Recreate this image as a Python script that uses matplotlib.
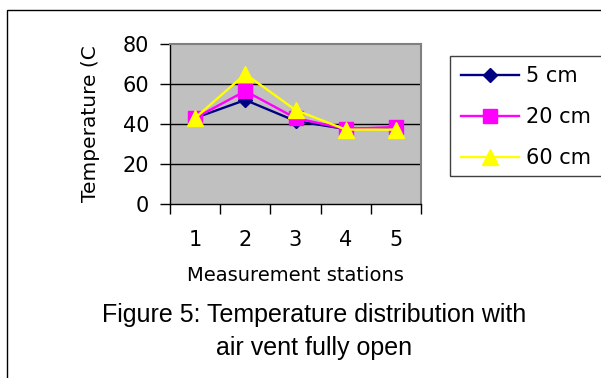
import matplotlib
matplotlib.use("Agg")
import matplotlib.pyplot as plt
from matplotlib.patches import Rectangle

plt.rcParams["font.family"] = ["DejaVu Sans"]

stations = [1, 2, 3, 4, 5]
station_labels = ["1", "2", "3", "4", "5"]
temp_5cm = [43, 52, 41.5, 37.5, 38]
temp_20cm = [43, 56.5, 43, 37.5, 38.5]
temp_60cm = [43, 65, 47, 37.2, 37.2]
series_names = ["5 cm", "20 cm", "60 cm"]
y_ticks = [0, 20, 40, 60, 80]
caption = ["Figure 5: Temperature distribution with", "air vent fully open"]

W, H = 601, 378
fig = plt.figure(figsize=(W / 100, H / 100), dpi=100)

# outer frame of the figure (runs off the right/bottom edge)
fig.patches.append(Rectangle((7 / W, 1 - 400 / H), 620 / W, 390 / H,
                             transform=fig.transFigure, fill=False,
                             edgecolor="black", linewidth=1.0))

ax = fig.add_axes([170 / W, 1 - 204 / H, 251 / W, 160 / H])
ax.set_facecolor("#c0c0c0")

ax.plot(stations, temp_5cm, color="#000080", lw=1.7, marker="D",
        markersize=7.5, label=series_names[0], zorder=3)
ax.plot(stations, temp_20cm, color="#ff00ff", lw=1.7, marker="s",
        markersize=10, label=series_names[1], zorder=4)
ax.plot(stations, temp_60cm, color="#ffff00", lw=1.7, marker="^",
        markersize=11, label=series_names[2], zorder=5)

ax.set_xlim(0.5, 5.5)
ax.set_ylim(0, 80)
ax.set_yticks(y_ticks)
ax.set_xticks(stations)
ax.set_xticklabels(station_labels)
ax.set_xticks([0.5 + i for i in range(6)], minor=True)
ax.tick_params(axis="x", which="major", length=0, pad=19, labelsize=15)
ax.tick_params(axis="x", which="minor", length=7, width=1, direction="out")
ax.tick_params(axis="y", length=7, width=1, direction="out", pad=8,
               labelsize=15)
for y in y_ticks[1:-1]:
    ax.axhline(y, color="black", lw=1, zorder=1)

for side in ("top", "right"):
    ax.spines[side].set_color("#808080")
    ax.spines[side].set_linewidth(1.5)
for side in ("left", "bottom"):
    ax.spines[side].set_color("black")
    ax.spines[side].set_linewidth(1)

ax.set_xlabel("Measurement stations", fontsize=14, labelpad=11)
ax.set_ylabel("Temperature (C", fontsize=14.5, labelpad=16)

# legend box (runs off the right edge)
fig.patches.append(Rectangle((450 / W, 1 - 176 / H), 200 / W, 120 / H,
                             transform=fig.transFigure, fill=False,
                             edgecolor="#404040", linewidth=1.0))
fig.legend(loc="upper left", bbox_to_anchor=(461 / W, 1 - 66 / H),
           frameon=False, fontsize=15, handlelength=2.8,
           handletextpad=0.3, labelspacing=1.02, borderaxespad=0,
           borderpad=0)

fig.text(314 / W, 1 - 315 / H, caption[0], ha="center", va="center",
         fontsize=18, family="Liberation Sans")
fig.text(314 / W, 1 - 348 / H, caption[1], ha="center", va="center",
         fontsize=18, family="Liberation Sans")

fig.savefig("out.png", dpi=100)
